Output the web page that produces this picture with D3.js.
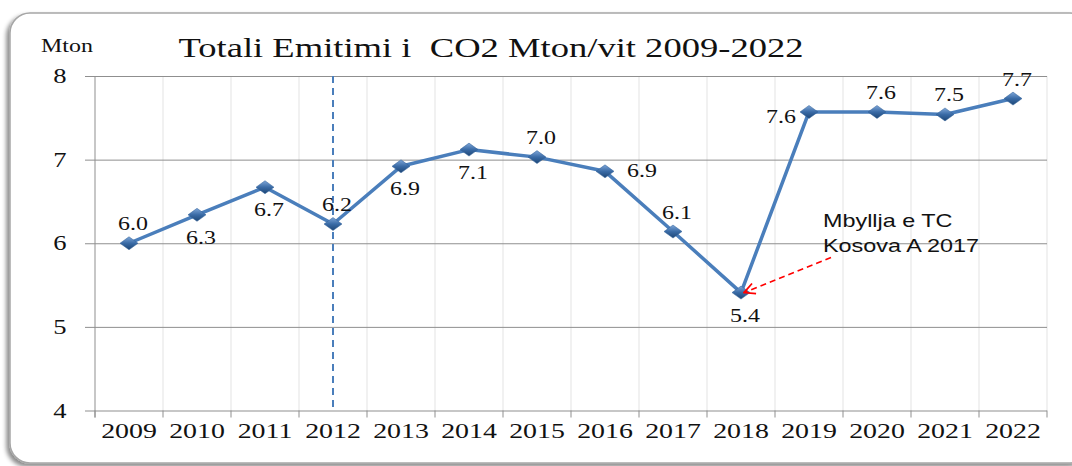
<!DOCTYPE html>
<html>
<head>
<meta charset="utf-8">
<script src="https://cdn.jsdelivr.net/npm/d3@7"></script>
<style>
  body { margin: 0; background: #fff; }
  svg { display: block; }
  .serif { font-family: "Liberation Serif", "DejaVu Serif", serif; fill: #111; }
</style>
</head>
<body>
<div class="chart_wrapper"></div>
<script>
// data
const years = ["2009", "2010", "2011", "2012", "2013", "2014", "2015",
               "2016", "2017", "2018", "2019", "2020", "2021", "2022"]
const emissions = [6.00, 6.34, 6.67, 6.23, 6.92, 7.12, 7.03,
                   6.86, 6.14, 5.41, 7.57, 7.57, 7.54, 7.73]
const yTicks = [4, 5, 6, 7, 8]
const markedYear = "2012"
const noteYear = "2018"
const noteLines = ["Mbyllja e TC", "Kosova A 2017"]
const titleText = "Totali Emitimi i  CO2 Mton/vit 2009-2022"
const unitText = "Mton"

// where Excel put each data label
const labelSide = ["above", "below", "below", "above", "below", "below", "above",
                   "right", "above", "below", "left", "above", "above", "above"]

function drawChart () {

  let dimensions = {
    width: 1072,
    height: 466,
    margin: { top: 76, right: 25, bottom: 55.5, left: 95 },
  }
  dimensions.boundedWidth = dimensions.width - dimensions.margin.left - dimensions.margin.right
  dimensions.boundedHeight = dimensions.height - dimensions.margin.top - dimensions.margin.bottom

  // the reference looks horizontally stretched, so text gets widened too
  const stretch = 1.33

  const wrapper = d3.select(".chart_wrapper")
    .append("svg")
      .attr("width", dimensions.width)
      .attr("height", dimensions.height)

  const defs = wrapper.append("defs")
  const shadow = defs.append("filter").attr("id", "frameShadow")
    .attr("x", "-5%").attr("y", "-5%").attr("width", "110%").attr("height", "110%")
  shadow.append("feDropShadow")
    .attr("dx", -3).attr("dy", 3).attr("stdDeviation", 2)
    .attr("flood-color", "#000").attr("flood-opacity", 0.45)

  const grad = defs.append("linearGradient").attr("id", "diamondFill")
    .attr("x1", 0).attr("y1", 0).attr("x2", 0).attr("y2", 1)
  grad.append("stop").attr("offset", "0%").attr("stop-color", "#7ea6d8")
  grad.append("stop").attr("offset", "50%").attr("stop-color", "#3a6ba6")
  grad.append("stop").attr("offset", "100%").attr("stop-color", "#1d4676")

  const arrow = defs.append("marker").attr("id", "redArrow")
    .attr("viewBox", "0 0 12 12").attr("refX", 11).attr("refY", 6)
    .attr("markerWidth", 13).attr("markerHeight", 13)
    .attr("markerUnits", "userSpaceOnUse")
    .attr("orient", "auto")
  arrow.append("path").attr("d", "M1,1 L11,6 L1,11")
    .attr("fill", "none").attr("stroke", "#ff0000").attr("stroke-width", 1.6)

  // frame
  wrapper.append("rect")
    .attr("x", 10).attr("y", 13)
    .attr("width", 1080).attr("height", 450)
    .attr("rx", 20)
    .attr("fill", "#fff")
    .attr("stroke", "#a6a6a6")
    .attr("stroke-width", 1.5)
    .attr("filter", "url(#frameShadow)")

  const bounds = wrapper.append("g")
    .attr("transform", `translate(${dimensions.margin.left}, ${dimensions.margin.top})`)

  const xScale = d3.scaleBand()
    .domain(years)
    .range([0, dimensions.boundedWidth])
  const xMid = d => xScale(d) + xScale.bandwidth() / 2

  const yScale = d3.scaleLinear()
    .domain([4, 8])
    .range([dimensions.boundedHeight, 0])

  // vertical light grid on category borders
  const borders = years.map(d => xScale(d)).concat([dimensions.boundedWidth])
  bounds.append("g").selectAll("line")
    .data(borders.slice(1))
    .join("line")
      .attr("x1", d => d).attr("x2", d => d)
      .attr("y1", 0).attr("y2", dimensions.boundedHeight)
      .attr("stroke", "#e3e3e3")

  // horizontal grid + y axis
  const yAxis = d3.axisLeft(yScale)
    .tickValues(yTicks)
    .tickSize(-dimensions.boundedWidth)
    .tickSizeOuter(0)
    .tickFormat("")
  const yAxisG = bounds.append("g").call(yAxis)
  yAxisG.select(".domain").remove()
  yAxisG.selectAll(".tick line")
    .attr("x1", -10)
    .attr("stroke", "#8f8f8f")

  bounds.append("line")
    .attr("x1", 0).attr("x2", 0)
    .attr("y1", 0).attr("y2", dimensions.boundedHeight + 7)
    .attr("stroke", "#8f8f8f")

  bounds.append("g").selectAll("text")
    .data(yTicks)
    .join("text")
      .attr("class", "serif")
      .attr("text-anchor", "middle")
      .attr("font-size", 20)
      .attr("transform", d => `translate(-35, ${yScale(d) + 7}) scale(${stretch},1)`)
      .text(d => d)

  // x axis tick marks between categories
  bounds.append("g").selectAll("line")
    .data(borders)
    .join("line")
      .attr("x1", d => d).attr("x2", d => d)
      .attr("y1", dimensions.boundedHeight).attr("y2", dimensions.boundedHeight + 7)
      .attr("stroke", "#8f8f8f")

  bounds.append("g").selectAll("text")
    .data(years)
    .join("text")
      .attr("class", "serif")
      .attr("text-anchor", "middle")
      .attr("font-size", 20.5)
      .attr("transform", d => `translate(${xMid(d)}, ${dimensions.boundedHeight + 27}) scale(1.36,1)`)
      .text(d => d)

  // dashed marker line
  bounds.append("line")
    .attr("x1", xMid(markedYear)).attr("x2", xMid(markedYear))
    .attr("y1", 0).attr("y2", dimensions.boundedHeight)
    .attr("stroke", "#4a7ebb")
    .attr("stroke-width", 2)
    .attr("stroke-dasharray", "7,5")

  const points = years.map((d, i) => ({ year: d, value: emissions[i], side: labelSide[i] }))

  const lineGen = d3.line()
    .x(d => xMid(d.year))
    .y(d => yScale(d.value))

  bounds.append("path")
    .datum(points)
    .attr("d", lineGen)
    .attr("fill", "none")
    .attr("stroke", "#4a7ebb")
    .attr("stroke-width", 3.5)
    .attr("stroke-linejoin", "round")

  bounds.append("g").selectAll("path")
    .data(points)
    .join("path")
      .attr("d", "M-9,0 L0,-6.5 L9,0 L0,6.5 Z")
      .attr("transform", d => `translate(${xMid(d.year)}, ${yScale(d.value)})`)
      .attr("fill", "url(#diamondFill)")
      .attr("stroke", "#2f5f96")
      .attr("stroke-width", 0.5)

  const fmt = d3.format(".1f")
  const offsets = {
    above: [4, -13],
    below: [4, 29],
    right: [37, 6],
    left: [-28, 11],
  }
  bounds.append("g").selectAll("text")
    .data(points)
    .join("text")
      .attr("class", "serif")
      .attr("text-anchor", "middle")
      .attr("font-size", 18)
      .attr("transform", d => {
        const o = offsets[d.side]
        return `translate(${xMid(d.year) + o[0]}, ${yScale(d.value) + o[1]}) scale(${stretch},1)`
      })
      .text(d => fmt(d.value))

  // annotation for the closure of Kosova A
  const noteValue = emissions[years.indexOf(noteYear)]
  const noteX = xMid(noteYear)
  const noteY = yScale(noteValue)

  bounds.append("line")
    .attr("x1", noteX + 90).attr("y1", noteY - 35)
    .attr("x2", noteX + 3).attr("y2", noteY)
    .attr("stroke", "#ff0000")
    .attr("stroke-width", 1.6)
    .attr("stroke-dasharray", "6,4")
    .attr("marker-end", "url(#redArrow)")

  bounds.append("g").selectAll("text")
    .data(noteLines)
    .join("text")
      .attr("font-family", "'Liberation Sans', Arial, sans-serif")
      .attr("font-size", 18)
      .attr("fill", "#111")
      .attr("transform", (d, i) => `translate(${noteX + 82}, ${noteY - 66 + i * 25}) scale(1.3,1)`)
      .text(d => d)

  // titles
  wrapper.append("text")
    .attr("class", "serif")
    .attr("text-anchor", "middle")
    .attr("font-size", 27.5)
    .style("white-space", "pre")
    .attr("transform", `translate(491, 57) scale(${stretch},1)`)
    .text(titleText)

  wrapper.append("text")
    .attr("class", "serif")
    .attr("text-anchor", "middle")
    .attr("font-size", 18)
    .attr("transform", `translate(67, 52) scale(${stretch},1)`)
    .text(unitText)
}
drawChart()
</script>
</body>
</html>
